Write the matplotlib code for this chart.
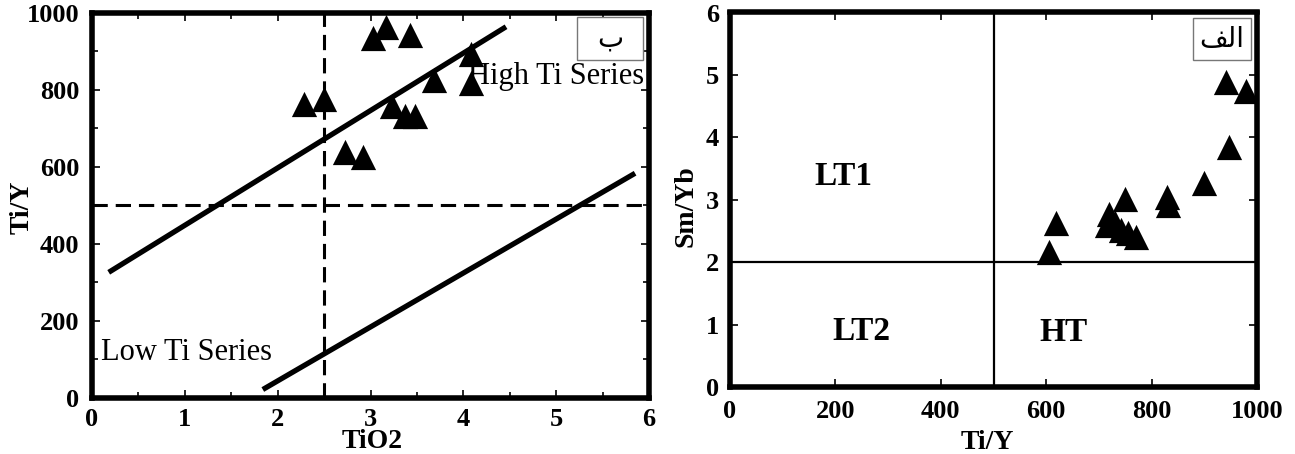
import matplotlib
matplotlib.use("Agg")
import matplotlib.pyplot as plt
from matplotlib.patches import Rectangle
from matplotlib.ticker import MultipleLocator

plt.rcParams['font.family'] = ['Liberation Serif', 'DejaVu Sans']
plt.rcParams['font.weight'] = 'bold'

# ---- Left panel (ب): TiO2 vs Ti/Y ----
tio2 = [3.17, 3.03, 3.43, 4.08, 4.08, 3.68, 2.28, 2.50, 3.23, 3.37, 3.48, 2.72, 2.92]
ti_y_left = [963, 933, 941, 892, 818, 825, 762, 775, 757, 732, 732, 638, 625]
upper_line_x = [0.18, 4.46]
upper_line_y = [326, 963]
lower_line_x = [1.84, 5.85]
lower_line_y = [22, 583]
tio2_div = 2.5
tiy_div = 500
left_xticks = [0, 1, 2, 3, 4, 5, 6]
left_yticks = [0, 200, 400, 600, 800, 1000]

# ---- Right panel (الف): Ti/Y vs Sm/Yb ----
ti_y_right = [606, 618, 750, 719, 716, 741, 770, 830, 831, 899, 946, 941, 979, 730, 755]
sm_yb = [2.17, 2.62, 3.02, 2.77, 2.59, 2.51, 2.41, 3.05, 2.91, 3.27, 3.84, 4.89, 4.75, 2.62, 2.46]
smyb_div = 2
tiy_div_right = 500
right_xticks = [0, 200, 400, 600, 800, 1000]
right_yticks = [0, 1, 2, 3, 4, 5, 6]

W, H = 1295, 454
fig = plt.figure(figsize=(W / 100, H / 100), dpi=100)

tri = dict(marker='^', s=330, color='black', linewidths=0, zorder=5, clip_on=False)
TICK_FS = 19
LABEL_FS = 20


def style_labels(ax):
    for lab in ax.get_xticklabels() + ax.get_yticklabels():
        lab.set_fontsize(TICK_FS)
        lab.set_fontweight('bold')
    for sp in ax.spines.values():
        sp.set_linewidth(4)


# Left axes
ax1 = fig.add_axes([92 / W, (H - 398) / H, 557 / W, 385.5 / H])
ax1.set_xlim(0, 6)
ax1.set_ylim(0, 1000)
ax1.plot(upper_line_x, upper_line_y, color='black', lw=3.8, solid_capstyle='butt')
ax1.plot(lower_line_x, lower_line_y, color='black', lw=3.8, solid_capstyle='butt')
ax1.axhline(tiy_div, color='black', lw=2.2, dashes=(5, 2.6))
ax1.axvline(tio2_div, color='black', lw=2.2, dashes=(5, 2.6))
ax1.scatter(tio2, ti_y_left, **tri)
ax1.set_xticks(left_xticks)
ax1.set_yticks(left_yticks)
ax1.xaxis.set_minor_locator(MultipleLocator(0.5))
ax1.yaxis.set_minor_locator(MultipleLocator(100))
ax1.tick_params(which='both', direction='in', top=True, right=True, width=1.2)
ax1.tick_params(which='major', length=6)
ax1.tick_params(which='minor', length=4)
ax1.tick_params(axis='x', which='major', pad=7)
ax1.tick_params(axis='y', which='major', pad=9)
style_labels(ax1)
ax1.set_xlabel('TiO2', fontsize=LABEL_FS, fontweight='bold')
ax1.xaxis.label.set_verticalalignment('center')
ax1.xaxis.set_label_coords(0.503, -0.112)
ax1.set_ylabel('Ti/Y', fontsize=LABEL_FS, fontweight='bold')
ax1.yaxis.label.set_verticalalignment('center')
ax1.yaxis.set_label_coords(-0.126, 0.495)
ax1.text(4.05, 835, 'High Ti Series', fontsize=22, fontweight='normal', va='center', ha='left', zorder=6)
ax1.text(0.1, 117, 'Low Ti Series', fontsize=22, fontweight='normal', va='center', ha='left', zorder=6)
ax1.add_patch(Rectangle((0.87, 0.878), 0.12, 0.11, transform=ax1.transAxes,
                        facecolor='white', edgecolor='#777777', lw=1.0, zorder=7))
ax1.text(0.93, 0.933, 'ب', transform=ax1.transAxes, fontsize=20, fontweight='normal',
         family=['DejaVu Sans'], ha='center', va='center', zorder=8)

# Right axes
ax2 = fig.add_axes([730 / W, (H - 387) / H, 527 / W, 374.5 / H])
ax2.set_xlim(0, 1000)
ax2.set_ylim(0, 6)
ax2.axhline(smyb_div, color='black', lw=1.6)
ax2.axvline(tiy_div_right, color='black', lw=1.6)
ax2.scatter(ti_y_right, sm_yb, **tri)
ax2.set_xticks(right_xticks)
ax2.set_yticks(right_yticks)
ax2.tick_params(which='both', direction='in', top=True, right=True, width=1.2, length=6)
ax2.tick_params(axis='x', pad=9)
ax2.tick_params(axis='y', pad=8)
style_labels(ax2)
ax2.set_xlabel('Ti/Y', fontsize=LABEL_FS, fontweight='bold')
ax2.xaxis.label.set_verticalalignment('center')
ax2.xaxis.set_label_coords(0.488, -0.147)
ax2.set_ylabel('Sm/Yb', fontsize=LABEL_FS, fontweight='bold')
ax2.yaxis.label.set_verticalalignment('center')
ax2.yaxis.set_label_coords(-0.083, 0.483)
ax2.text(215, 3.37, 'LT1', fontsize=24, fontweight='bold', ha='center', va='center')
ax2.text(250, 0.89, 'LT2', fontsize=24, fontweight='bold', ha='center', va='center')
ax2.text(632, 0.87, 'HT', fontsize=24, fontweight='bold', ha='center', va='center')
ax2.add_patch(Rectangle((0.878, 0.873), 0.11, 0.112, transform=ax2.transAxes,
                        facecolor='white', edgecolor='#777777', lw=1.0, zorder=7))
ax2.text(0.933, 0.929, '\ufed2\ufedf\u0627', transform=ax2.transAxes, fontsize=20,
         fontweight='normal', family=['DejaVu Sans'], ha='center', va='center', zorder=8)

fig.savefig('out.png', dpi=100, facecolor='white')
